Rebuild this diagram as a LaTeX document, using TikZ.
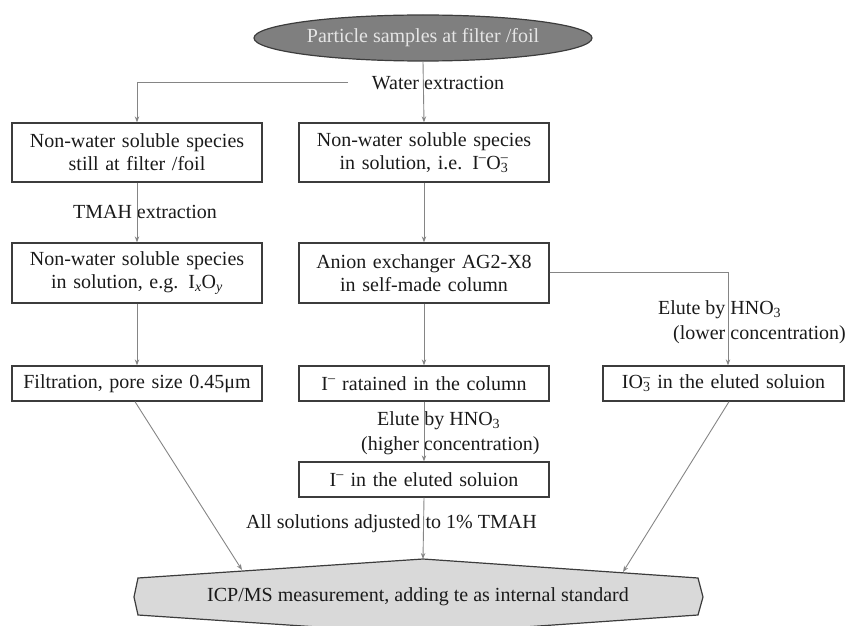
\documentclass[tikz,border=0pt]{standalone}
\usepackage{fontspec}
\setmainfont{Liberation Serif}
\usetikzlibrary{shapes.geometric,arrows.meta,calc}
\definecolor{lin}{HTML}{858585}
\definecolor{bord}{HTML}{3C3C3C}
\definecolor{ellfill}{HTML}{7F7F7F}
\definecolor{hexfill}{HTML}{D9D9D9}
\definecolor{txt}{HTML}{1A1A1A}
\newcommand\subsup[2]{\rlap{\textsubscript{#1}}\textsuperscript{#2}}
\tikzset{
  stepbox/.style={draw=bord, line width=1.3pt, rectangle, minimum width=250pt, text width=244pt, align=center, inner sep=2pt, text=txt, font=\fontsize{20}{23}\selectfont},
  conn/.style={draw=lin, line width=0.9pt, -{Stealth[length=6pt,width=4.5pt]}},
  plain/.style={draw=lin, line width=0.9pt},
  lbl/.style={inner sep=0pt, text=txt, font=\fontsize{20}{25}\selectfont}
}
\begin{document}
\begin{tikzpicture}[x=1pt,y=-1pt]
\useasboundingbox (0,0) rectangle (847,626);
\begin{scope}
\clip (0,0) rectangle (847,626);
% nodes
\node[ellipse, draw=bord, line width=1.2pt, fill=ellfill, minimum width=338pt, minimum height=46pt, inner sep=0pt, text=white!90!black, font=\fontsize{20}{24}\selectfont] (ell) at (423,38) {Particle samples at filter /foil};

\node[stepbox, minimum height=59pt] (L1) at (137,152.5) {Non-water soluble species\\still at filter /foil};
\node[stepbox, minimum height=59pt] (M1) at (424,152.5) {Non-water soluble species\\in solution, i.e. I\textsuperscript{–}O\subsup{3}{–}};
\node[stepbox, minimum height=60pt] (L2) at (137,273) {Non-water soluble species\\in solution, e.g. I\textsubscript{\itshape x}O\textsubscript{\itshape y}};
\node[stepbox, minimum height=60pt] (M2) at (424,273) {Anion exchanger AG2-X8\\in self-made column};
\node[stepbox, minimum height=35pt] (L3) at (137,383.5) {Filtration, pore size 0.45μm};
\node[stepbox, minimum height=35pt] (M3) at (424,383.5) {I\textsuperscript{–} ratained in the column};
\node[stepbox, minimum height=35pt, minimum width=241pt, text width=235pt] (R3) at (723.5,383.5) {IO\subsup{3}{–} in the eluted soluion};
\node[stepbox, minimum height=35pt] (M4) at (424,479.5) {I\textsuperscript{–} in the eluted soluion};

% hexagon
\coordinate (hpk) at (423,559);
\draw[bord, line width=1.2pt, fill=hexfill] (138,578) -- (hpk) -- (698,578) -- (703,597) -- (698,615) -- (423,634) -- (138,615) -- (134,597) -- cycle;
\node[lbl] (hex) at (418,597) {ICP/MS measurement, adding te as internal standard};
\coordinate (hL) at (242,570);
\coordinate (hR) at (623,572);

% labels
\node[lbl] (wx) at (438,83) {Water extraction};
\node[lbl] (tx) at (145,212) {TMAH extraction};
\node[lbl, anchor=west, align=left] (er) at (658,322.5) {Elute by HNO\textsubscript{3}\\\hspace*{15pt}(lower concentration)};
\node[lbl, anchor=west, align=left] (em) at (361,433) {\hspace*{16pt}Elute by HNO\textsubscript{3}\\(higher concentration)};
\node[lbl] (ax) at (391.5,524) {All solutions adjusted to 1\% TMAH};

% connectors
\coordinate (wl) at (348,82);
\draw[plain] (wl) -- (wl -| L1.north);
\draw[conn] (wl -| L1.north) -- (L1.north);
\draw[conn] (ell.south) -- (M1.north);
\draw[conn] (L1.south) -- (L2.north);
\draw[conn] (M1.south) -- (M2.north);
\draw[conn] (L2.south) -- (L3.north);
\draw[conn] (M2.south) -- (M3.north);
\coordinate (rc) at (728,272);
\draw[plain] (M2.east |- rc) -- (rc);
\draw[conn] (rc) -- (rc |- R3.north);
\draw[conn] (M3.south) -- (M4.north);
\draw[conn] (L3.south -| 135,0) -- (hL);
\draw[conn] (R3.south -| 729,0) -- (hR);
\draw[conn] (M4.south) -- (hpk);
\end{scope}
\end{tikzpicture}
\end{document}
